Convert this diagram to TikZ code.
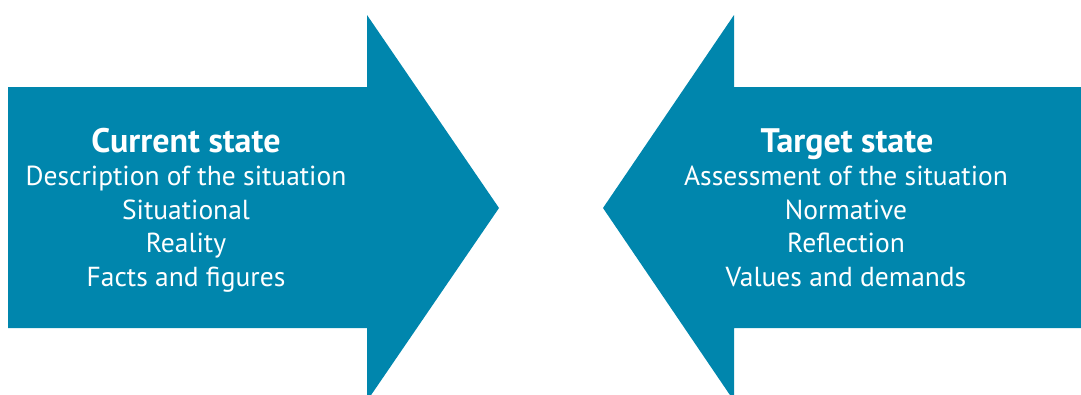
\documentclass[tikz,border=0pt]{standalone}
\usepackage{fontspec}
\setmainfont{PT Sans}
\definecolor{statebl}{RGB}{0,134,173}
\tikzset{
  lbl/.style={anchor=base, text=white, inner sep=0pt, font=\fontsize{27.5}{33}\selectfont},
  ttl/.style={lbl, font=\fontsize{34}{40}\selectfont\bfseries}
}
\begin{document}
\begin{tikzpicture}[x=1pt, y=-1pt]
  \useasboundingbox (0,0) rectangle (1081,394);
  \clip (0,0) rectangle (1081,394);
  % current state, pointing right
  \fill[statebl] (8,87) -- (367,87) -- (367,15) -- (499,208) -- (367,401)
    -- (367,328) -- (8,328) -- cycle;
  % target state, pointing left
  \fill[statebl] (1090,87) -- (734,87) -- (734,15) -- (603,208) -- (734,401)
    -- (734,328) -- (1090,328) -- cycle;
  \node[ttl] (cur) at (186,152) {Current state};
  \foreach \t [count=\i] in {Description of the situation, Situational,
    Reality, Facts and figures} {
    \node[lbl] (cur-\i) at (186,{152+33.5*\i}) {\t};
  }
  \node[ttl] (tgt) at (847,152) {Target state};
  \foreach \t [count=\i] in {Assessment of the situation, Normative,
    Reflection, Values and demands} {
    \node[lbl] (tgt-\i) at (846,{152+33.5*\i}) {\t};
  }
\end{tikzpicture}
\end{document}
